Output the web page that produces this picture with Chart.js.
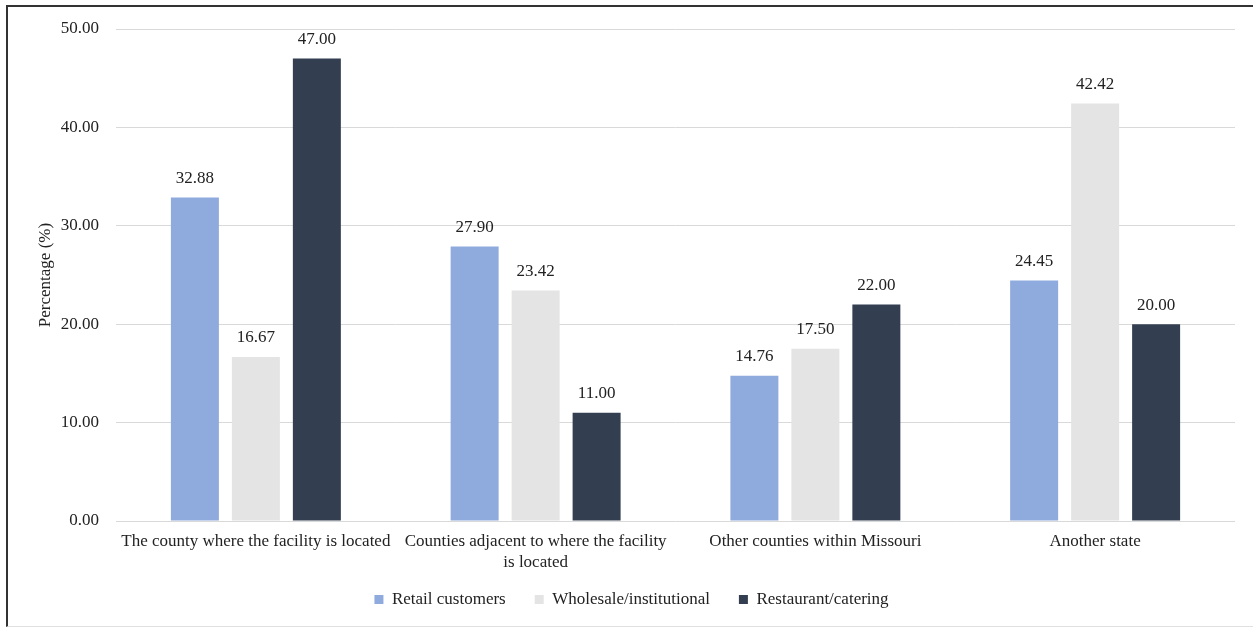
<!DOCTYPE html>
<html>
<head>
<meta charset="utf-8">
<script src="https://cdn.jsdelivr.net/npm/chart.js@4"></script>
<style>
html,body{margin:0;padding:0;background:#fff;}
#wrap{position:absolute;left:0;top:0;width:1253px;height:629px;}
#frame{position:absolute;left:6px;top:5px;width:1247px;height:622px;border-top:2px solid #333;border-left:2px solid #333;border-bottom:1px solid #e0e0e0;box-sizing:border-box;pointer-events:none;}
</style>
</head>
<body>
<div id="wrap"><canvas id="c" width="1253" height="629"></canvas></div>
<div id="frame"></div>
<script>
const categories = [
  "The county where the facility is located",
  ["Counties adjacent to where the facility", "is located"],
  "Other counties within Missouri",
  "Another state"
];
const seriesNames = ["Retail customers", "Wholesale/institutional", "Restaurant/catering"];
const retail = [32.88, 27.90, 14.76, 24.45];
const wholesale = [16.67, 23.42, 17.50, 42.42];
const restaurant = [47.00, 11.00, 22.00, 20.00];
const yTicks = [0, 10, 20, 30, 40, 50];
const colors = ["#8FAADC", "#E4E4E4", "#333F50"];

const FONT = "'Liberation Serif', 'Times New Roman', serif";
const TXT = "#222";

const valueLabels = {
  id: 'valueLabels',
  afterLayout(chart) {
    // let the two-line category labels extend below the axis box
    chart.scales.x.bottom = chart.height;
    // nudge the legend to the reference's horizontal position
    chart.legend.left += 14;
    chart.legend.right += 14;
  },
  afterDatasetsDraw(chart) {
    const ctx = chart.ctx;
    ctx.save();
    ctx.font = "17px " + FONT;
    ctx.fillStyle = TXT;
    ctx.textAlign = 'center';
    ctx.textBaseline = 'middle';
    chart.data.datasets.forEach((ds, i) => {
      const meta = chart.getDatasetMeta(i);
      meta.data.forEach((bar, j) => {
        ctx.fillText(ds.data[j].toFixed(2), bar.x, bar.y - 19);
      });
    });
    ctx.restore();
  }
};

new Chart(document.getElementById('c'), {
  type: 'bar',
  data: {
    labels: categories,
    datasets: [
      { label: seriesNames[0], data: retail, backgroundColor: colors[0] },
      { label: seriesNames[1], data: wholesale, backgroundColor: colors[1] },
      { label: seriesNames[2], data: restaurant, backgroundColor: colors[2] }
    ]
  },
  options: {
    responsive: false,
    animation: false,
    devicePixelRatio: 1,
    layout: { padding: { left: 0, right: 18, top: 29, bottom: 11 } },
    datasets: { bar: { categoryPercentage: 0.654, barPercentage: 0.787 } },
    plugins: {
      legend: {
        position: 'bottom',
        labels: {
          font: { family: FONT, size: 17 },
          color: TXT,
          boxWidth: 9,
          boxHeight: 9,
          padding: 29
        }
      },
      tooltip: { enabled: false }
    },
    scales: {
      x: {
        afterFit(scale) { scale.height = 41; },
        grid: { display: false, drawTicks: false },
        border: { display: false },
        ticks: {
          font: { family: FONT, size: 17, lineHeight: 1.18 },
          color: TXT,
          padding: 11,
          maxRotation: 0,
          autoSkip: false
        }
      },
      y: {
        min: 0, max: 50,
        afterFit(scale) { scale.width = 116; },
        afterBuildTicks(scale) { scale.ticks = yTicks.map(v => ({ value: v })); },
        grid: { color: '#d9d9d9', lineWidth: 1, drawTicks: false },
        border: { display: false },
        ticks: {
          font: { family: FONT, size: 17 },
          color: TXT,
          padding: 17,
          callback: v => Number(v).toFixed(2)
        },
        title: {
          display: true,
          text: 'Percentage (%)',
          font: { family: FONT, size: 17 },
          color: TXT,
          padding: { top: 35, bottom: 0 }
        }
      }
    }
  },
  plugins: [valueLabels]
});
</script>
</body>
</html>
